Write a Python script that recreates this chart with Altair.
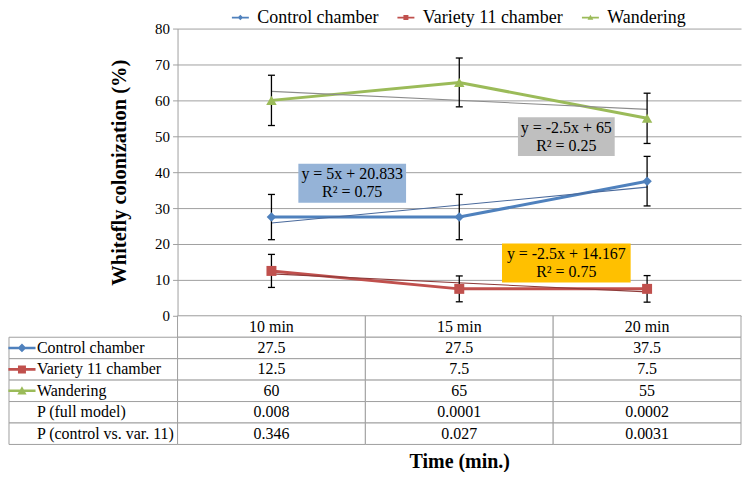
import altair as alt
import pandas as pd

# ---------------- data ----------------
times = ["10 min", "15 min", "20 min"]
series = ["Control chamber", "Variety 11 chamber", "Wandering"]
control = [27.5, 27.5, 37.5]
variety = [12.5, 7.5, 7.5]
wandering = [60, 65, 55]
control_err = [6.3, 6.3, 6.9]
variety_err = [4.6, 3.6, 3.7]
wandering_err = [7.0, 6.8, 7.0]
p_labels = ["P (full model)", "P (control vs. var. 11)"]
p_full = ["0.008", "0.0001", "0.0002"]
p_ctrl = ["0.346", "0.027", "0.0031"]
eq_lines = ["y = 5x + 20.833\nR² = 0.75",
            "y = -2.5x + 14.167\nR² = 0.75",
            "y = -2.5x + 65\nR² = 0.25"]
# annotation anchors (axis units: time index, % value)
eq_t = [1.43, 2.57, 2.57]
eq_v = [36.9, 14.7, 49.9]

# ---------------- styles ----------------
FONT = "'Times New Roman', 'Liberation Serif', 'DejaVu Serif', serif"
GRID = "#a0a0a0"
colors = ["#4F81BD", "#C0504D", "#9BBB59"]
trend_colors = ["#4A6A9C", "#8E3B3A", "#8C8C8C"]
markers = ["diamond", "square", "triangle-up"]
marker_sizes = [90, 100, 110]
box_fill = ["#95B3D7", "#FFC000", "#BFBFBF"]
box_w = [108, 129, 97]
box_h = 39
W, H = 565, 288
TH = 129

line_part = "M-1.7,-0.16L1.7,-0.16L1.7,0.16L-1.7,0.16Z"
legend_paths = [
    line_part + "M0,-0.55L0.55,0L0,0.55L-0.55,0Z",
    line_part + "M-0.5,-0.5L0.5,-0.5L0.5,0.5L-0.5,0.5Z",
    line_part + "M0,-0.58L0.58,0.45L-0.58,0.45Z",
]

values = [control, variety, wandering]
errs = [control_err, variety_err, wandering_err]
recs = []
for s, vals, es in zip(series, values, errs):
    for i, (tm, v, e) in enumerate(zip(times, vals, es)):
        recs.append({"series": s, "time": tm, "t": i + 1, "value": v,
                     "lo": v - e, "hi": v + e})
df = pd.DataFrame(recs)

xs = alt.Scale(domain=[0.5, 3.5], nice=False, zero=False)
ys = alt.Scale(domain=[0, 80], nice=False, zero=True)
yaxis = alt.Axis(values=list(range(0, 81, 10)), grid=True, gridColor=GRID,
                 gridWidth=1, domainColor=GRID, tickColor=GRID, tickSize=5,
                 labelFont=FONT, labelFontSize=15, labelColor="black",
                 labelPadding=3, titleFont=FONT, titleFontSize=20.5,
                 titleFontWeight="bold", titleColor="black", titlePadding=25)
TITLE = "Whitefly colonization (%)"


def X():
    return alt.X("t:Q", scale=xs, axis=None)


def Y(f):
    return alt.Y(f"{f}:Q", scale=ys, axis=yaxis, title=TITLE)


layers = []
for i, s in enumerate(series):
    base = alt.Chart(df).transform_filter(alt.datum.series == s)
    layers.append(base.mark_line(color=colors[i], strokeWidth=3)
                  .encode(x=X(), y=Y("value")))
for i, s in enumerate(series):
    base = alt.Chart(df).transform_filter(alt.datum.series == s)
    layers.append(base.transform_regression("t", "value")
                  .mark_line(color=trend_colors[i], strokeWidth=1.1)
                  .encode(x=X(), y=Y("value")))
layers.append(alt.Chart(df).mark_rule(color="black", strokeWidth=1.3)
              .encode(x=X(), y=Y("lo"), y2="hi:Q"))
for f in ["lo", "hi"]:
    layers.append(alt.Chart(df).mark_tick(orient="horizontal", size=7,
                                          thickness=1.3, color="black",
                                          opacity=1)
                  .encode(x=X(), y=Y(f)))
for i, s in enumerate(series):
    base = alt.Chart(df).transform_filter(alt.datum.series == s)
    layers.append(base.mark_point(shape=markers[i], size=marker_sizes[i],
                                  filled=True, color=colors[i], opacity=1,
                                  strokeWidth=0)
                  .encode(x=X(), y=Y("value")))

eq_df = pd.DataFrame({"t": eq_t, "value": eq_v, "txt": eq_lines})
for i in range(3):
    hh = (box_h / 2) / (box_w[i] / 2)
    path = f"M-1,-{hh:.4f}L1,-{hh:.4f}L1,{hh:.4f}L-1,{hh:.4f}Z"
    layers.append(alt.Chart(eq_df.iloc[[i]]).mark_point(
        shape=path, size=box_w[i] ** 2, filled=True, color=box_fill[i],
        opacity=1, strokeWidth=0).encode(x=X(), y=Y("value")))
layers.append(alt.Chart(eq_df).mark_text(font=FONT, fontSize=16,
                                         color="black", lineBreak="\n",
                                         lineHeight=18, align="center",
                                         baseline="middle", dy=-9)
              .encode(x=X(), y=Y("value"), text="txt:N"))

leg = alt.Legend(title=None, orient="none", legendX=54, legendY=-20,
                 direction="horizontal", padding=0, labelFont=FONT,
                 labelFontSize=18, labelColor="black", labelOffset=8,
                 columnPadding=18, symbolStrokeWidth=0)
layers.append(alt.Chart(df).transform_filter("false")
              .mark_point(filled=True, opacity=1, size=256)
              .encode(x=X(), y=Y("value"),
                      color=alt.Color("series:N",
                                      scale=alt.Scale(domain=series, range=colors),
                                      legend=leg),
                      shape=alt.Shape("series:N",
                                      scale=alt.Scale(domain=series, range=legend_paths),
                                      legend=leg)))

top = alt.layer(*layers).properties(width=W, height=H)

# ---------------- data table ----------------
row_keys = ["hdr"] + series + p_labels
trecs = []
for tm in times:
    trecs.append({"row": "hdr", "time": tm, "txt": tm})
for s, vals in zip(series, values):
    for tm, v in zip(times, vals):
        trecs.append({"row": s, "time": tm, "txt": f"{v:g}"})
for lab, ps in zip(p_labels, [p_full, p_ctrl]):
    for tm, p in zip(times, ps):
        trecs.append({"row": lab, "time": tm, "txt": p})
tdf = pd.DataFrame(trecs)
ldf = pd.DataFrame({"row": series + p_labels})

tx = alt.X("time:N", scale=alt.Scale(domain=times, paddingInner=0, paddingOuter=0),
           axis=alt.Axis(title="Time (min.)", labels=False, ticks=False,
                         domain=False, titleFont=FONT, titleFontSize=20,
                         titleFontWeight="bold", titleColor="black",
                         titlePadding=7))
ty = alt.Y("row:N", scale=alt.Scale(domain=row_keys, paddingInner=0, paddingOuter=0),
           axis=None)

tlayers = [
    alt.Chart(tdf).mark_rect(fill="white", stroke=GRID, strokeWidth=1)
    .encode(x=tx, y=ty),
    alt.Chart(ldf).mark_rect(fill="white", stroke=GRID, strokeWidth=1)
    .encode(x=alt.value(-169), x2=alt.value(0), y=ty),
    alt.Chart(tdf).mark_text(font=FONT, fontSize=16, color="black")
    .encode(x=tx, y=ty, text="txt:N"),
    alt.Chart(ldf).mark_text(font=FONT, fontSize=16, color="black", align="left")
    .encode(x=alt.value(-141), y=ty, text="row:N"),
]
for i, s in enumerate(series):
    tlayers.append(alt.Chart(pd.DataFrame({"row": [s]}))
                   .mark_point(shape=legend_paths[i], size=256, filled=True,
                               color=colors[i], opacity=1, strokeWidth=0)
                   .encode(x=alt.value(-156), y=ty))

table = alt.layer(*tlayers).properties(width=W, height=TH)

chart = alt.VConcatChart(vconcat=[top, table], spacing=0, bounds="flush",
                         padding=0).configure_view(stroke=None)

chart.save("out.html", embed_options={"renderer": "svg", "actions": False})
